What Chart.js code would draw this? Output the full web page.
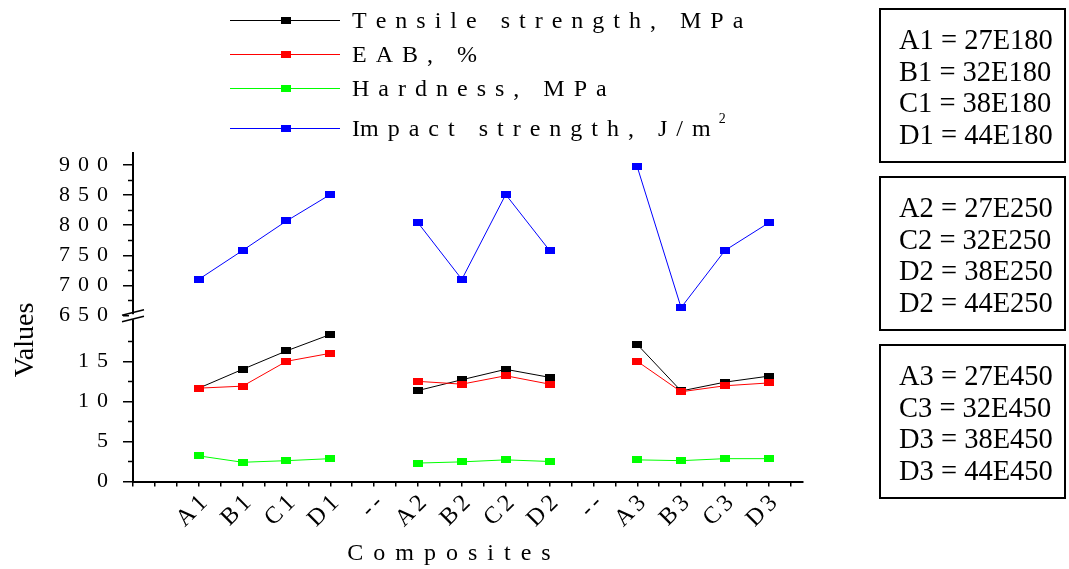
<!DOCTYPE html>
<html>
<head>
<meta charset="utf-8">
<title>Composites</title>
<script src="https://cdn.jsdelivr.net/npm/chart.js@4.4.1/dist/chart.umd.min.js"></script>
<style>
  html, body { margin: 0; padding: 0; background: #fff; }
  canvas { display: block; }
</style>
</head>
<body>
<canvas id="chart" width="1069" height="569"></canvas>
<script>
// composites along the x axis ('--' slots separate the three groups)
const composites = ['A1', 'B1', 'C1', 'D1', '--', 'A2', 'B2', 'C2', 'D2', '--', 'A3', 'B3', 'C3', 'D3'];

// lower panel (0 - 20)
const tensile  = [11.65, 14.0, 16.3, 18.35, null, 11.35, 12.7, 14.0, 13.0, null, 17.1, 11.3, 12.4, 13.15];
const eab      = [11.65, 11.9, 15.0, 16.0, null, 12.5, 12.15, 13.2, 12.15, null, 15.0, 11.2, 11.95, 12.3];
const hardness = [3.2, 2.4, 2.6, 2.85, null, 2.3, 2.45, 2.7, 2.5, null, 2.7, 2.6, 2.85, 2.85];
// upper panel (650 - 900)
const impact   = [710, 758, 807, 851, null, 804, 710, 851, 758, null, 897, 663, 758, 804];

const lowTicks  = [0, 5, 10, 15];
const highTicks = [650, 700, 750, 800, 850, 900];

const seriesNames = ['Tensile strength, MPa', 'EAB, %', 'Hardness, MPa', 'Impact strength, J/m'];
const seriesColors = ['#000000', '#ff0000', '#00ff00', '#0000ff'];

const key180 = ['A1 = 27E180', 'B1 = 32E180', 'C1 = 38E180', 'D1 = 44E180'];
const key250 = ['A2 = 27E250', 'C2 = 32E250', 'D2 = 38E250', 'D2 = 44E250'];
const key450 = ['A3 = 27E450', 'C3 = 32E450', 'D3 = 38E450', 'D3 = 44E450'];

const SERIF = '"Liberation Serif", "Times New Roman", serif';

// small flat rectangle used as the point marker
function marker(color) {
  const c = document.createElement('canvas');
  c.width = 10;
  c.height = 7;
  const g = c.getContext('2d');
  g.fillStyle = color;
  g.fillRect(0, 0, 10, 7);
  return c;
}

function points(values) {
  return values.map((v, i) => ({ x: i + 1, y: v }));
}

function series(i, values, axis, order) {
  return {
    label: seriesNames[i],
    data: points(values),
    yAxisID: axis,
    order: order,
    borderColor: seriesColors[i],
    backgroundColor: seriesColors[i],
    borderWidth: 1,
    tension: 0,
    spanGaps: false,
    pointStyle: marker(seriesColors[i]),
    pointRadius: 5,
    pointHoverRadius: 5
  };
}

// text with wide letter spacing, drawn one unit at a time
function spacedWidth(ctx, units, sp) {
  let w = 0;
  units.forEach((u, i) => { w += ctx.measureText(u).width + (i ? sp : 0); });
  return w;
}

function drawSpaced(ctx, text, x, y, sp, align) {
  const units = Array.isArray(text) ? text : Array.from(text);
  const w = spacedWidth(ctx, units, sp);
  let cx = align === 'right' ? x - w : align === 'center' ? x - w / 2 : x;
  ctx.textAlign = 'left';
  units.forEach(u => {
    ctx.fillText(u, cx, y);
    cx += ctx.measureText(u).width + sp;
  });
  return cx - sp;
}

const tickMarks = { drawOnChartArea: false, drawTicks: true, color: '#000', lineWidth: 1.5 };
const axisLine = { display: true, color: '#000', width: 2 };

const decor = {
  id: 'decor',
  afterDraw(chart) {
    const ctx = chart.ctx;
    const xs = chart.scales.x, lo = chart.scales.y, hi = chart.scales.y2;
    const left = chart.chartArea.left;
    ctx.save();
    ctx.fillStyle = '#000';
    ctx.strokeStyle = '#000';

    // minor ticks on the y axis
    ctx.lineWidth = 1.5;
    const minor = (scale, vals) => vals.forEach(v => {
      const py = Math.round(scale.getPixelForValue(v)) + 0.5;
      ctx.beginPath();
      ctx.moveTo(left - 5, py);
      ctx.lineTo(left, py);
      ctx.stroke();
    });
    minor(lo, [2.5, 7.5, 12.5, 17.5]);
    minor(hi, [675, 725, 775, 825, 875]);

    // axis break between the two panels
    const by = Math.min(lo.top, hi.bottom);
    ctx.fillStyle = '#fff';
    ctx.fillRect(left - 4, by - 3, 8, 5);
    ctx.fillStyle = '#000';
    ctx.lineWidth = 1.5;
    ctx.beginPath();
    ctx.moveTo(left - 11, by - 2); ctx.lineTo(left + 11, by - 7.5);
    ctx.moveTo(left - 11, by + 4.5); ctx.lineTo(left + 11, by - 1);
    ctx.stroke();

    // y tick labels
    ctx.font = '22px ' + SERIF;
    ctx.textBaseline = 'middle';
    lowTicks.forEach(v => drawSpaced(ctx, String(v), left - 25, lo.getPixelForValue(v), 8, 'right'));
    highTicks.forEach(v => drawSpaced(ctx, String(v), left - 25, hi.getPixelForValue(v), 8, 'right'));

    // x tick labels, slanted
    ctx.font = '24px ' + SERIF;
    composites.forEach((c, i) => {
      const px = xs.getPixelForValue(i + 1);
      ctx.save();
      ctx.translate(px + 5, xs.top + 18);
      ctx.rotate(-Math.PI / 4);
      drawSpaced(ctx, c, 0, 0, 4, 'right');
      ctx.restore();
    });

    // axis titles
    ctx.font = '24px ' + SERIF;
    ctx.textBaseline = 'alphabetic';
    drawSpaced(ctx, 'Composites', 449, 560, 10, 'center');

    ctx.save();
    ctx.translate(33, 340);
    ctx.rotate(-Math.PI / 2);
    ctx.font = '28px ' + SERIF;
    ctx.textAlign = 'center';
    ctx.fillText('Values', 0, 0);
    ctx.restore();

    // legend
    const rows = [20, 54, 88, 128];
    ctx.font = '24px ' + SERIF;
    chart.data.datasets.forEach((ds, i) => {
      const ly = rows[i];
      ctx.strokeStyle = ds.borderColor;
      ctx.lineWidth = 1;
      ctx.beginPath();
      ctx.moveTo(230, ly + 0.5);
      ctx.lineTo(340, ly + 0.5);
      ctx.stroke();
      ctx.fillStyle = ds.borderColor;
      ctx.fillRect(281, ly - 3, 10, 7);
      ctx.fillStyle = '#000';
      const units = i === 3 ? ['Im'].concat(Array.from(ds.label.slice(2))) : ds.label;
      const end = drawSpaced(ctx, units, 352, ly + 8, 9, 'left');
      if (i === 3) {
        ctx.font = '14px ' + SERIF;
        ctx.fillText('2', end + 8, ly - 5);
        ctx.font = '24px ' + SERIF;
      }
    });

    // composition keys on the right
    ctx.font = '28.5px ' + SERIF;
    ctx.lineWidth = 2;
    ctx.strokeStyle = '#000';
    const boxes = [[key180, 9], [key250, 177], [key450, 345]];
    boxes.forEach(([lines, top]) => {
      ctx.strokeRect(880, top, 185, 153);
      lines.forEach((t, j) => {
        ctx.textAlign = 'left';
        ctx.fillText(t, 899, top + 40 + j * 31.5);
      });
    });

    ctx.restore();
  }
};

new Chart(document.getElementById('chart'), {
  type: 'line',
  data: {
    datasets: [
      series(0, tensile, 'y', 2),
      series(1, eab, 'y', 1),
      series(2, hardness, 'y', 0),
      series(3, impact, 'y2', 0)
    ]
  },
  options: {
    responsive: false,
    animation: false,
    devicePixelRatio: 1,
    layout: { padding: { top: 153, right: 266, bottom: 0, left: 0 } },
    plugins: { legend: { display: false }, tooltip: { enabled: false } },
    scales: {
      x: {
        type: 'linear',
        min: -0.5,
        max: 14.78,
        afterBuildTicks: s => {
          const t = [];
          for (let v = -0.5; v <= 14.5; v += 0.5) t.push({ value: v });
          s.ticks = t;
        },
        afterFit: s => { s.height = 87.5; },
        ticks: { display: false },
        grid: Object.assign({ tickLength: 5 }, tickMarks),
        border: axisLine
      },
      // lower panel first, the stack places the later scale above it
      y: {
        type: 'linear',
        position: 'left',
        stack: 'values',
        stackWeight: 1,
        min: 0,
        max: 20.5,
        afterBuildTicks: s => { s.ticks = lowTicks.map(v => ({ value: v })); },
        afterFit: s => { s.width = 133; },
        ticks: { display: false },
        grid: Object.assign({ tickLength: 10 }, tickMarks),
        border: axisLine
      },
      y2: {
        type: 'linear',
        position: 'left',
        stack: 'values',
        stackWeight: 1,
        min: 647,
        max: 920,
        afterBuildTicks: s => { s.ticks = highTicks.map(v => ({ value: v })); },
        afterFit: s => { s.width = 133; },
        ticks: { display: false },
        grid: Object.assign({ tickLength: 10 }, tickMarks),
        border: axisLine
      }
    }
  },
  plugins: [decor]
});
</script>
</body>
</html>
